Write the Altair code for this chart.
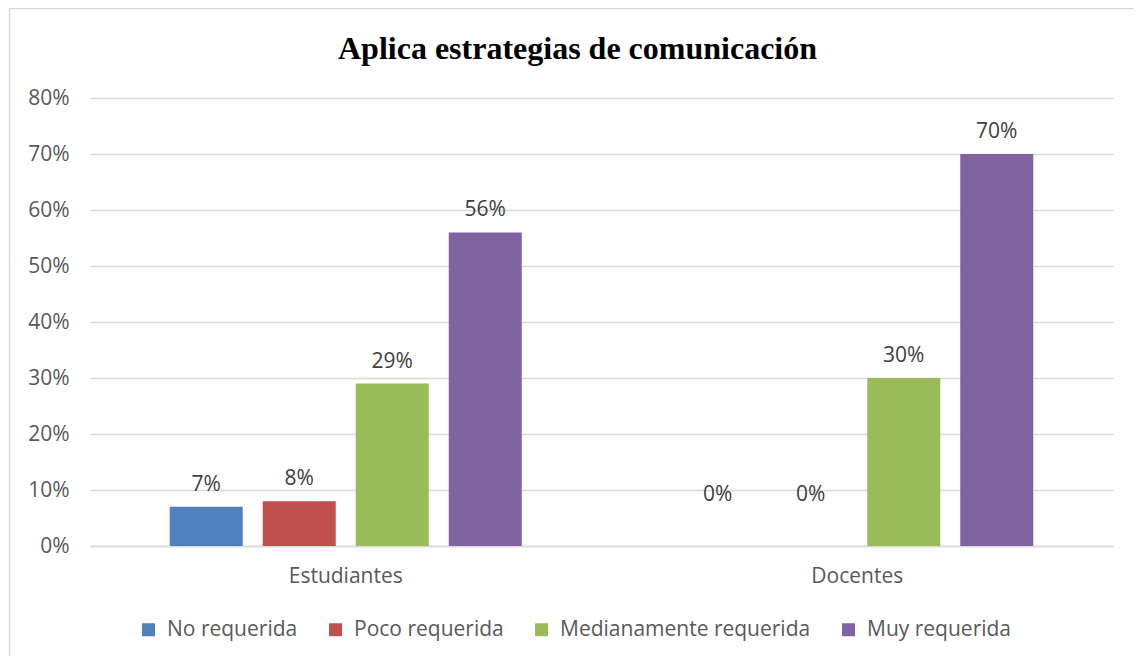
import altair as alt
import pandas as pd

groups = ["Estudiantes", "Docentes"]
series = ["No requerida", "Poco requerida", "Medianamente requerida", "Muy requerida"]
colors = ["#4F81BD", "#C0504D", "#9BBB59", "#8064A2"]
estudiantes = [0.07, 0.08, 0.29, 0.56]
docentes = [0.0, 0.0, 0.30, 0.70]
y_ticks = [0, 0.1, 0.2, 0.3, 0.4, 0.5, 0.6, 0.7, 0.8]

rows = []
for g, vals in zip(groups, [estudiantes, docentes]):
    for s, v in zip(series, vals):
        rows.append({"grupo": g, "serie": s, "valor": v})
df = pd.DataFrame(rows)

FONT = "Open Sans"
FS = 21
W, H = 1023, 448

base = alt.Chart(df).encode(
    x=alt.X("grupo:N", sort=groups, title=None,
            scale=alt.Scale(paddingInner=0, paddingOuter=0),
            axis=alt.Axis(labelAngle=0, labelFont=FONT, labelFontSize=FS,
                          labelColor="#595959", labelPadding=19, ticks=False,
                          domain=True, domainColor="#d9d9d9", domainWidth=1.5)),
    xOffset=alt.XOffset("serie:N", sort=series,
                        scale=alt.Scale(paddingInner=0.215, paddingOuter=0.857)),
)

bars = base.mark_bar().encode(
    y=alt.Y("valor:Q", title=None,
            scale=alt.Scale(domain=[0, 0.8]),
            axis=alt.Axis(values=y_ticks, format=".0%", labelFont=FONT,
                          labelFontSize=FS, labelColor="#595959", labelPadding=21,
                          domain=False, ticks=False, gridColor="#d9d9d9",
                          gridWidth=1.5)),
    color=alt.Color("serie:N", sort=series,
                    scale=alt.Scale(domain=series, range=colors),
                    legend=alt.Legend(title=None, orient="none", direction="horizontal",
                                      legendX=48, legendY=521, symbolType="square",
                                      symbolSize=169, symbolStrokeWidth=0,
                                      labelFont=FONT, labelFontSize=FS,
                                      labelColor="#595959", labelOffset=8,
                                      labelLimit=500, columnPadding=27, padding=0)),
)

labels = base.transform_calculate(
    pos="max(datum.valor, 0.052)"
).mark_text(baseline="alphabetic", dy=-16, font=FONT, fontSize=FS,
            color="#404040").encode(
    y=alt.Y("pos:Q"),
    text=alt.Text("valor:Q", format=".0%"),
)

border = alt.Chart(alt.Data(values=[{}])).mark_rect(
    fill="transparent", stroke="#d9d9d9", strokeWidth=1.5
).encode(
    x=alt.value(-80.5), x2=alt.value(1060), y=alt.value(-89.5), y2=alt.value(580)
)

chart = alt.layer(border, bars, labels).properties(
    width=W, height=H,
    title=alt.Title("Aplica estrategias de comunicación", font="Liberation Serif",
                    fontSize=32, fontWeight="bold", color="#000000",
                    anchor="middle", dx=-24, offset=-83, baseline="alphabetic"),
    autosize=alt.AutoSizeParams(type="none"),
    padding={"left": 82, "top": 90, "right": 21, "bottom": 110},
).configure_view(stroke=None)

chart.save("out.html", embed_options={"renderer": "svg", "actions": False})
